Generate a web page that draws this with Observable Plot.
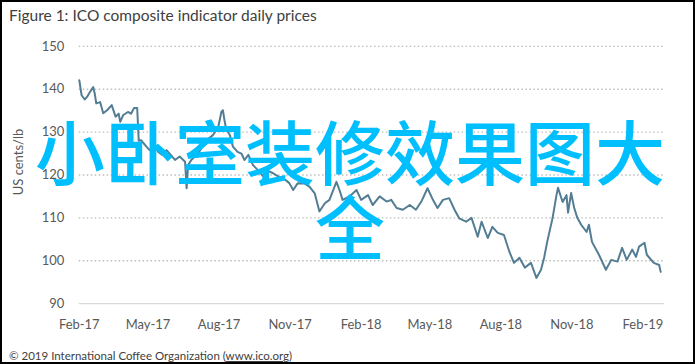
<!DOCTYPE html>
<html><head><meta charset="utf-8">
<script src="https://cdn.jsdelivr.net/npm/d3@7"></script>
<script src="https://cdn.jsdelivr.net/npm/@observablehq/plot@0.6"></script>
<style>
body{margin:0;background:#fff;}
#frame{position:relative;width:695px;height:364px;box-sizing:border-box;border:2px solid #000;overflow:hidden;font-family:Lato,"Liberation Sans",sans-serif;background:#fff;}
#title{position:absolute;left:7px;top:4px;font-size:15.5px;color:#404040;white-space:nowrap;}
#chart{position:absolute;left:-2px;top:-2px;}
#ylabel{position:absolute;left:-84px;top:151px;width:200px;height:18px;line-height:18px;text-align:center;font-size:13px;color:#595959;transform:rotate(-90deg);transform-origin:center;white-space:nowrap;}
#footer{position:absolute;left:7px;top:347px;font-size:11.5px;color:#404040;white-space:nowrap;}
#footer u{text-decoration:underline;}
#overlay{position:absolute;left:33px;top:110px;width:630px;text-align:center;font-family:"Noto Sans CJK SC";font-weight:500;font-size:70px;line-height:75px;color:#00bfff;}
</style></head>
<body>
<div id="frame">
  <div id="chart"></div>
  <div id="title">Figure 1: ICO composite indicator daily prices</div>
  <div id="ylabel">US cents/lb</div>
  <div id="footer">© 2019 International Coffee Organization (<u>www.ico.org</u>)</div>
  <div id="overlay">小卧室装修效果图大全</div>
</div>
<script>
const dates = ["2017-02-01","2017-02-04","2017-02-08","2017-02-11","2017-02-15","2017-02-19","2017-02-21","2017-02-23","2017-02-28","2017-03-04","2017-03-09","2017-03-15","2017-03-20","2017-03-24","2017-03-26","2017-03-30","2017-04-05","2017-04-09","2017-04-13","2017-04-17","2017-04-19","2017-04-22","2017-04-29","2017-05-03","2017-05-10","2017-05-14","2017-05-19","2017-05-25","2017-05-29","2017-06-05","2017-06-11","2017-06-18","2017-06-20","2017-06-22","2017-06-26","2017-07-01","2017-07-05","2017-07-10","2017-07-16","2017-07-24","2017-07-31","2017-08-04","2017-08-06","2017-08-08","2017-08-10","2017-08-15","2017-08-19","2017-08-25","2017-08-30","2017-09-03","2017-09-08","2017-09-14","2017-09-20","2017-09-28","2017-10-03","2017-10-10","2017-10-18","2017-10-25","2017-10-31","2017-11-05","2017-11-11","2017-11-20","2017-11-26","2017-12-03","2017-12-09","2017-12-16","2017-12-22","2017-12-31","2018-01-04","2018-01-08","2018-01-17","2018-01-26","2018-02-01","2018-02-10","2018-02-16","2018-02-25","2018-03-06","2018-03-12","2018-03-19","2018-03-27","2018-04-05","2018-04-13","2018-04-20","2018-04-28","2018-05-05","2018-05-11","2018-05-18","2018-05-26","2018-06-02","2018-06-08","2018-06-17","2018-06-24","2018-07-02","2018-07-07","2018-07-15","2018-07-21","2018-07-28","2018-08-05","2018-08-12","2018-08-18","2018-08-25","2018-09-01","2018-09-09","2018-09-16","2018-09-22","2018-09-26","2018-09-30","2018-10-07","2018-10-12","2018-10-14","2018-10-20","2018-10-25","2018-10-27","2018-10-31","2018-11-04","2018-11-08","2018-11-13","2018-11-20","2018-11-23","2018-11-27","2018-12-06","2018-12-15","2018-12-22","2018-12-30","2019-01-05","2019-01-11","2019-01-18","2019-01-23","2019-01-27","2019-02-03","2019-02-06","2019-02-15","2019-02-22","2019-02-24"];
const prices = [142.1,138.6,137.6,138.2,139.4,140.5,139.0,136.7,137.0,134.4,135.1,136.3,133.6,134.3,132.4,134.0,134.7,134.3,135.6,135.6,128.0,128.1,126.6,125.8,127.0,125.4,124.7,125.8,125.0,123.5,124.3,123.1,116.9,122.3,123.5,124.3,125.0,126.5,128.1,129.3,131.2,134.7,135.1,132.8,130.9,129.3,126.6,125.4,125.0,123.5,124.7,122.3,121.2,119.5,121.0,120.4,119.5,119.0,118.1,116.5,118.1,118.0,117.3,115.7,111.5,113.4,114.2,118.4,116.5,114.2,115.0,116.5,114.2,115.3,113.0,115.0,113.8,114.2,112.3,111.9,113.0,111.9,113.8,116.9,114.2,112.3,114.2,114.6,111.9,109.9,109.1,110.0,105.6,109.1,105.3,107.9,106.5,106.0,102.1,99.5,100.7,98.4,99.5,96.0,97.9,100.7,104.4,110.0,115.3,117.0,113.7,115.3,111.2,115.8,112.3,110.0,108.4,106.7,108.4,104.4,101.4,97.9,100.2,99.8,103.0,100.2,102.6,100.9,103.3,104.2,101.4,99.5,99.0,97.4];
const yTicks = [90,100,110,120,130,140,150];
const xTickDates = ["2017-02-01","2017-05-01","2017-08-01","2017-11-01","2018-02-01","2018-05-01","2018-08-01","2018-11-01","2019-02-01"];
const xTickLabels = ["Feb-17","May-17","Aug-17","Nov-17","Feb-18","May-18","Aug-18","Nov-18","Feb-19"];
const xDomain = ["2017-02-01","2019-03-01"];

const toDate = s => new Date(s + "T00:00:00Z");
const data = dates.map((d, i) => ({date: toDate(d), price: prices[i]}));
const tickDates = xTickDates.map(toDate);

const chart = Plot.plot({
  width: 695, height: 364,
  marginLeft: 79, marginRight: 29, marginTop: 46, marginBottom: 60,
  style: {fontFamily: "Lato, 'Liberation Sans', sans-serif", fontSize: "13px", color: "#595959", background: "transparent"},
  x: {type: "utc", domain: xDomain.map(toDate)},
  y: {domain: [90, 150]},
  marks: [
    Plot.ruleY(yTicks.filter(v => v > 90), {stroke: "#bdbdbd", strokeDasharray: "1.5,2.5", strokeWidth: 1.3}),
    Plot.ruleY([90], {stroke: "#d9d9d9", strokeWidth: 1.2}),
    Plot.axisY(yTicks, {tickSize: 0, tickPadding: 15, label: null, fill: "#595959", fontSize: 13}),
    Plot.axisX(tickDates, {tickSize: 0, tickPadding: 16, label: null, fill: "#595959", fontSize: 13,
      tickFormat: d => xTickLabels[tickDates.findIndex(t => +t === +d)]}),
    Plot.line(data, {x: "date", y: "price", stroke: "#527d93", strokeWidth: 2})
  ]
});
document.getElementById("chart").appendChild(chart);
</script>
</body></html>
